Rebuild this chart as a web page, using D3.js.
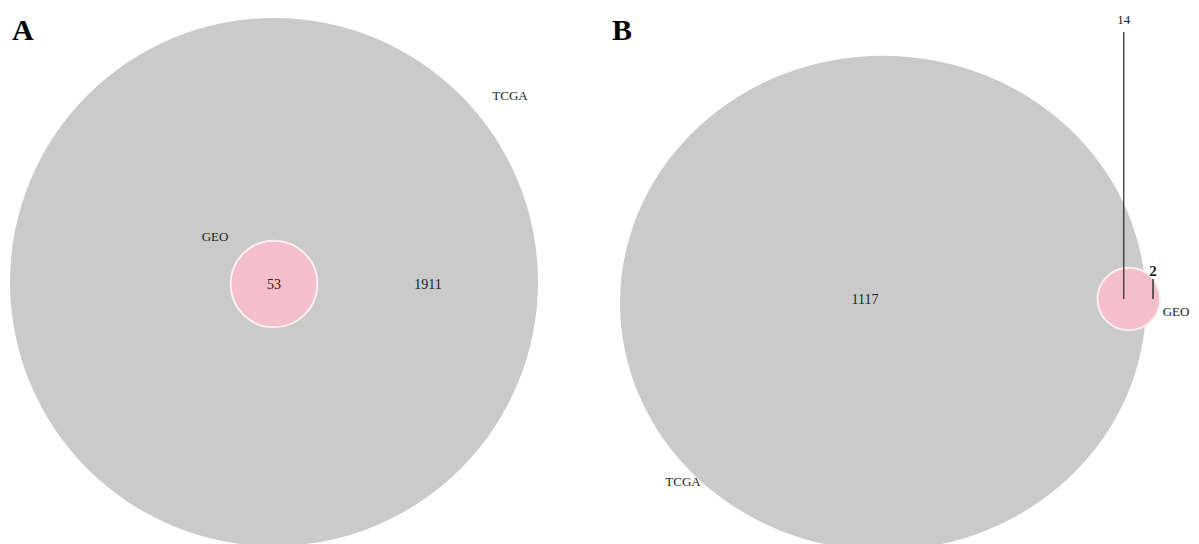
<!DOCTYPE html>
<html>
<head>
<meta charset="utf-8">
<script src="https://cdn.jsdelivr.net/npm/d3@7"></script>
<style>
  body { margin: 0; background: #fff; }
  svg text { font-family: "Liberation Serif", "DejaVu Serif", serif; fill: #222; }
</style>
</head>
<body>
<div id="chart"></div>
<script>
// venn counts for each panel: [TCGA only, both, GEO only]
var panels = ['A', 'B']
var setNames = ['TCGA', 'GEO']
var onlyTCGA = [1911, 1117]
var shared = [53, 14]
var onlyGEO = [0, 2]

var width = 1199,
    height = 544

var svg = d3.select('#chart').append('svg')
    .attr('width', width)
    .attr('height', height)

var grey = '#cacaca',
    pink = '#f4bfca'

// area of the lens between two circles
function lensArea(R, r, d) {
    if (d >= R + r) return 0
    if (d <= R - r) return Math.PI * r * r
    var a = r * r * Math.acos((d * d + r * r - R * R) / (2 * d * r))
    var b = R * R * Math.acos((d * d + R * R - r * r) / (2 * d * R))
    var c = 0.5 * Math.sqrt((-d + r + R) * (d + r - R) * (d - r + R) * (d + r + R))
    return a + b - c
}

// find the centre distance that gives the wanted overlap
function solveDistance(R, r, target) {
    var lo = R - r, hi = R + r
    for (var k = 0; k < 60; k++) {
        var mid = (lo + hi) / 2
        if (lensArea(R, r, mid) > target) lo = mid
        else hi = mid
    }
    return (lo + hi) / 2
}

// panel B was squeezed a little vertically in the source figure
var layout = [
    { cx: 274, cy: 282, R: 264, squeeze: 1 },
    { cx: 883, cy: 303, R: 263, squeeze: 0.94 }
]

panels.forEach(function (name, i) {
    var big = onlyTCGA[i] + shared[i],
        small = shared[i] + onlyGEO[i]
    var L = layout[i]

    var rScale = d3.scaleSqrt().domain([0, big]).range([0, L.R])
    var r = rScale(small)
    var target = Math.PI * r * r * shared[i] / small
    var d = onlyGEO[i] === 0 ? 0 : solveDistance(L.R, r, target) + 3

    var g = svg.append('g')
    var sx = L.cx + d, sy = onlyGEO[i] === 0 ? L.cy + 2 : L.cy - 4

    g.append('ellipse')
        .attr('cx', L.cx).attr('cy', L.cy)
        .attr('rx', L.R).attr('ry', L.R * L.squeeze)
        .style('fill', grey)

    g.append('circle')
        .attr('cx', sx).attr('cy', sy).attr('r', r)
        .style('fill', pink)
        .style('stroke', '#fbeef0')
        .style('stroke-width', 2)

    // panel letter
    g.append('text')
        .attr('x', i === 0 ? 12 : 612)
        .attr('y', 40)
        .style('font-size', '30px')
        .style('font-weight', 'bold')
        .style('fill', '#000')
        .text(name)

    if (i === 0) {
        g.append('text').attr('x', sx).attr('y', sy + 5)
            .attr('text-anchor', 'middle').style('font-size', '14px')
            .text(shared[i])
        g.append('text').attr('x', L.cx + 154).attr('y', L.cy + 7)
            .attr('text-anchor', 'middle').style('font-size', '14px')
            .text(onlyTCGA[i])
        g.append('text').attr('x', 510).attr('y', 100)
            .attr('text-anchor', 'middle').style('font-size', '13px')
            .text(setNames[0])
        g.append('text').attr('x', 215).attr('y', 241)
            .attr('text-anchor', 'middle').style('font-size', '13px')
            .text(setNames[1])
    } else {
        var bigEdge = L.cx + L.R
        var xShared = (sx - r + bigEdge) / 2 + 2
        var xGeo = (bigEdge + sx + r) / 2
        g.append('text').attr('x', L.cx - 18).attr('y', L.cy + 1)
            .attr('text-anchor', 'middle').style('font-size', '14px')
            .text(onlyTCGA[i])
        g.append('line')
            .attr('x1', xShared).attr('x2', xShared)
            .attr('y1', 32).attr('y2', sy)
            .style('stroke', '#333').style('stroke-width', 1.3)
        g.append('text').attr('x', xShared).attr('y', 24)
            .attr('text-anchor', 'middle').style('font-size', '13px')
            .text(shared[i])
        g.append('line')
            .attr('x1', xGeo).attr('x2', xGeo)
            .attr('y1', 279).attr('y2', sy)
            .style('stroke', '#333').style('stroke-width', 1.5)
        g.append('text').attr('x', xGeo).attr('y', 276)
            .attr('text-anchor', 'middle').style('font-size', '15px')
            .style('font-weight', 'bold')
            .text(onlyGEO[i])
        g.append('text').attr('x', 683).attr('y', 486)
            .attr('text-anchor', 'middle').style('font-size', '13px')
            .text(setNames[0])
        g.append('text').attr('x', 1176).attr('y', 316)
            .attr('text-anchor', 'middle').style('font-size', '13px')
            .text(setNames[1])
    }
})
</script>
</body>
</html>
